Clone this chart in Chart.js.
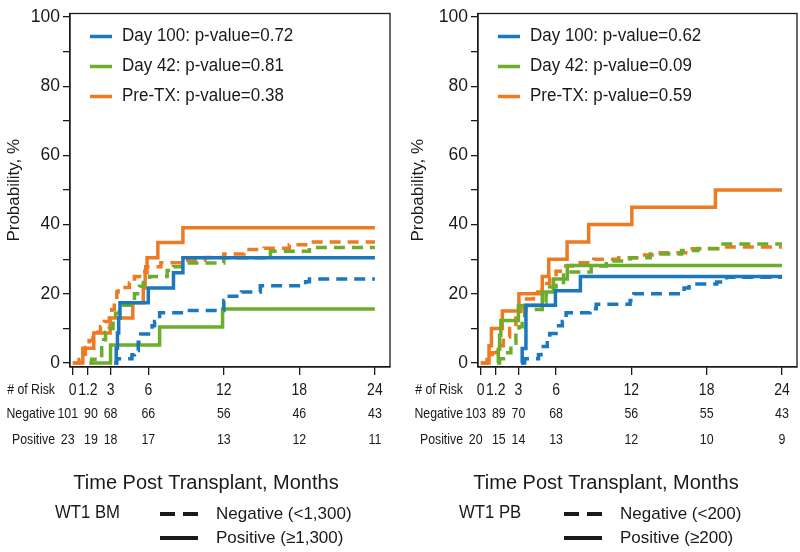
<!DOCTYPE html>
<html>
<head>
<meta charset="utf-8">
<script src="https://cdn.jsdelivr.net/npm/chart.js@4.4.1/dist/chart.umd.min.js"></script>
<style>
  html, body { margin: 0; padding: 0; background: #fff; }
  #wrap { position: relative; width: 800px; height: 552px; }
  canvas { position: absolute; top: 0; }
</style>
</head>
<body>
<div id="wrap">
  <canvas id="chartBM" width="404" height="552" style="left:0"></canvas>
  <canvas id="chartPB" width="396" height="552" style="left:404px"></canvas>
</div>
<script>
// Ejes
const xTicks = [0, 1.2, 3, 6, 12, 18, 24];
const yTicks = [0, 10, 20, 30, 40, 50, 60, 70, 80, 90, 100];

// Panel WT1 BM
const bmPvalues = ['0.72', '0.81', '0.38'];
const bmRiskNeg = [101, 90, 68, 66, 56, 46, 43];
const bmRiskPos = [23, 19, 18, 17, 13, 12, 11];

const bmD100PosT = [3.3, 3.45, 3.55, 3.65, 3.75, 6.0, 8.0, 8.75, 24];
const bmD100PosY = [0, 4.3, 8.7, 13.0, 17.4, 21.7, 26.1, 30.4, 30.4];
const bmD100NegT = [3.3, 3.5, 4.7, 4.9, 5.2, 5.4, 6.3, 6.5, 6.9, 8.9, 12.0, 12.2, 13.4, 14.9, 18.5, 18.8, 24];
const bmD100NegY = [0, 1.2, 2.4, 3.6, 6.0, 8.4, 10.8, 12.0, 14.5, 15.2, 18.1, 19.3, 20.5, 22.3, 23.5, 24.3, 24.3];
const bmD42PosT = [1.33, 3.0, 6.9, 11.9, 24];
const bmD42PosY = [0, 5.2, 10.4, 15.6, 15.6];
const bmD42NegT = [1.33, 1.5, 2.0, 2.3, 2.45, 2.6, 2.9, 3.2, 3.4, 3.7, 4.6, 4.9, 5.3, 5.6, 6.1, 7.5, 8.0, 8.7, 12.0, 15.7, 18.8, 24];
const bmD42NegY = [0, 1.1, 2.2, 4.4, 6.7, 8.9, 10.0, 12.2, 14.4, 16.7, 17.8, 20.0, 22.2, 23.3, 25.0, 26.7, 27.8, 28.9, 30.4, 32.3, 33.4, 33.4];
const bmPrePosT = [0, 0.8, 1.67, 2.97, 4.77, 5.6, 5.75, 5.9, 6.76, 8.75, 24];
const bmPrePosY = [0, 4.3, 8.7, 13.0, 17.4, 21.7, 26.1, 30.4, 34.8, 39.1, 39.1];
const bmPreNegT = [0, 0.5, 0.8, 1.0, 1.3, 1.6, 2.2, 2.5, 2.9, 3.1, 3.3, 3.5, 3.6, 4.5, 4.9, 5.5, 5.8, 7.0, 8.8, 10.5, 12.0, 13.6, 15.2, 17.2, 18.8, 24];
const bmPreNegY = [0, 1.0, 2.5, 4.5, 6.5, 8.9, 10.5, 12.0, 13.5, 15.5, 18.0, 20.5, 21.8, 23.2, 25.0, 26.5, 27.8, 29.0, 29.7, 30.5, 31.5, 32.8, 33.2, 34.2, 35.0, 35.0];

// Panel WT1 PB
const pbPvalues = ['0.62', '0.09', '0.59'];
const pbRiskNeg = [103, 89, 70, 68, 56, 55, 43];
const pbRiskPos = [20, 15, 14, 13, 12, 10, 9];

const pbD100PosT = [3.2, 3.3, 3.6, 5.95, 7.94, 24];
const pbD100PosY = [0, 4.2, 16.7, 20.9, 25.0, 25.0];
const pbD100NegT = [3.3, 3.5, 4.6, 4.8, 5.3, 5.5, 6.2, 6.5, 6.8, 8.7, 9.2, 11.9, 12.2, 16.2, 16.6, 18.8, 19.6, 24];
const pbD100NegY = [0, 1.2, 2.4, 4.8, 7.2, 8.5, 10.8, 12.0, 14.5, 15.7, 17.0, 18.1, 20.0, 21.7, 22.8, 23.4, 24.8, 24.8];
const pbD42PosT = [1.3, 1.4, 1.5, 1.6, 3.0, 4.9, 5.8, 6.9, 24];
const pbD42PosY = [0, 4.0, 8.0, 12.3, 16.6, 20.5, 24.3, 28.2, 28.2];
const pbD42NegT = [1.4, 1.5, 2.0, 2.4, 2.8, 3.05, 3.3, 3.5, 4.9, 5.2, 5.5, 6.0, 6.6, 8.8, 10.0, 11.9, 13.5, 16.0, 17.3, 19.0, 24];
const pbD42NegY = [0, 1.2, 3.0, 5.7, 8.0, 10.5, 13.0, 15.5, 17.5, 20.0, 22.0, 23.3, 26.3, 28.0, 29.5, 30.4, 31.5, 32.5, 33.1, 34.4, 34.4];
const pbPrePosT = [0, 0.66, 0.85, 1.72, 3.04, 4.9, 5.42, 6.88, 8.6, 12.04, 18.7, 24];
const pbPrePosY = [0, 5, 10, 15, 20, 25, 30, 35, 40, 45, 50, 50];
const pbPreNegT = [0, 0.5, 0.9, 1.3, 1.8, 2.3, 2.8, 3.2, 3.5, 4.2, 4.9, 5.5, 6.0, 6.6, 7.3, 9.0, 11.0, 12.6, 14.3, 16.5, 19.2, 24];
const pbPreNegY = [0, 1.0, 3.0, 5.0, 7.5, 10.0, 13.0, 16.0, 18.5, 20.5, 23.0, 24.5, 26.5, 28.0, 29.0, 30.0, 30.4, 31.2, 31.9, 33.0, 33.5, 33.5];

const BLUE = '#1b77be';
const GREEN = '#6cad2b';
const ORANGE = '#ee7b22';
const INK = '#1a1a1a';
const FONT = '"Liberation Sans", Arial, sans-serif';

// desplazamiento de las dos primeras columnas de la tabla para que no se peguen
const colNudge = [-5, 3, 0, 0, 0, 0, 0];

function pts(t, y) {
    return t.map((v, i) => ({ x: v, y: y[i] }));
}

function serie(t, y, color, dashed) {
    return {
        data: pts(t, y),
        borderColor: color,
        borderWidth: 3.5,
        borderDash: dashed ? [11, 7] : [],
        stepped: 'before',
        pointRadius: 0,
        fill: false
    };
}

// Texto con compresión horizontal opcional
function drawText(ctx, text, px, py, size, sx, align) {
    ctx.save();
    ctx.translate(px, py);
    ctx.scale(sx, 1);
    ctx.font = size + 'px ' + FONT;
    ctx.fillStyle = INK;
    ctx.textAlign = align;
    ctx.textBaseline = 'middle';
    ctx.fillText(text, 0, 0);
    ctx.restore();
}

const panelDecor = {
    id: 'panelDecor',
    afterDraw(chart, args, o) {
        const { ctx, chartArea: a, scales: { x } } = chart;
        const w = chart.width;
        ctx.save();

        // marco
        ctx.strokeStyle = INK;
        ctx.lineWidth = 1.3;
        ctx.strokeRect(a.left, a.top, a.right - a.left, a.bottom - a.top);

        // leyenda interior
        const colors = [BLUE, GREEN, ORANGE];
        const names = ['Day 100', 'Day 42', 'Pre-TX'];
        names.forEach((n, i) => {
            const yy = a.top + 23 + i * 30;
            ctx.strokeStyle = colors[i];
            ctx.lineWidth = 3.5;
            ctx.setLineDash([]);
            ctx.beginPath();
            ctx.moveTo(a.left + 20, yy);
            ctx.lineTo(a.left + 42, yy);
            ctx.stroke();
            drawText(ctx, n + ': p-value=' + o.pvalues[i], a.left + 52, yy, 17.5, 0.97, 'left');
        });

        // tabla de riesgo
        const labX = a.left - 15;
        drawText(ctx, '# of Risk', labX, 390, 15, 0.82, 'right');
        drawText(ctx, 'Negative', labX, 414, 15, 0.82, 'right');
        drawText(ctx, 'Positive', labX, 440, 15, 0.82, 'right');
        xTicks.forEach((t, i) => {
            const px = x.getPixelForValue(t);
            drawText(ctx, String(t), px, 390, 16.5, 0.85, 'center');
            drawText(ctx, String(o.riskNeg[i]), px + colNudge[i], 414, 15.5, 0.8, 'center');
            drawText(ctx, String(o.riskPos[i]), px + colNudge[i], 440, 15.5, 0.8, 'center');
        });

        // título eje x
        drawText(ctx, 'Time Post Transplant, Months', w / 2 + 4, 483, 20, 1, 'center');

        // leyenda de estilos
        drawText(ctx, o.group, 55, 513, 19, 0.88, 'left');
        ctx.strokeStyle = INK;
        ctx.lineWidth = 4;
        ctx.setLineDash([15, 8]);
        ctx.beginPath();
        ctx.moveTo(160, 514);
        ctx.lineTo(198, 514);
        ctx.stroke();
        ctx.setLineDash([]);
        ctx.beginPath();
        ctx.moveTo(160, 538);
        ctx.lineTo(198, 538);
        ctx.stroke();
        drawText(ctx, o.negLabel, 216, 514, 17, 1, 'left');
        drawText(ctx, o.posLabel, 216, 538, 17, 1, 'left');

        ctx.restore();
    }
};

function makePanel(id, cfg) {
    const ctx = document.getElementById(id);
    return new Chart(ctx.getContext('2d'), {
        type: 'line',
        data: { datasets: cfg.datasets },
        plugins: [panelDecor],
        options: {
            responsive: false,
            animation: false,
            devicePixelRatio: 1,
            layout: { padding: { left: 0, right: cfg.padRight, top: 10, bottom: 0 } },
            plugins: {
                legend: { display: false },
                tooltip: { enabled: false },
                panelDecor: cfg.decor
            },
            scales: {
                x: {
                    type: 'linear',
                    min: -0.22,
                    max: 25.2,
                    afterBuildTicks: s => { s.ticks = xTicks.map(v => ({ value: v })); },
                    afterFit: s => { s.height = 185; },
                    ticks: { display: false },
                    grid: { drawOnChartArea: false, tickLength: 8, color: INK, lineWidth: 1.3 },
                    border: { display: true, color: INK, width: 1.3 }
                },
                y: {
                    min: -1.15,
                    max: 101,
                    afterBuildTicks: s => { s.ticks = yTicks.map(v => ({ value: v })); },
                    afterFit: s => { s.width = cfg.yWidth; },
                    ticks: {
                        color: INK,
                        padding: 3,
                        font: { family: FONT, size: 17.5 },
                        callback: v => (v % 20 === 0 ? v : '')
                    },
                    grid: { drawOnChartArea: false, tickLength: 7, color: INK, lineWidth: 1.3 },
                    border: { display: true, color: INK, width: 1.3 },
                    title: {
                        display: true,
                        text: 'Probability, %',
                        color: INK,
                        font: { family: FONT, size: 17 },
                        padding: { top: 4, bottom: 0 }
                    }
                }
            }
        }
    });
}

window.addEventListener('DOMContentLoaded', () => {
    makePanel('chartBM', {
        yWidth: 70,
        padRight: 14,
        datasets: [
            serie(bmD100PosT, bmD100PosY, BLUE, false),
            serie(bmD100NegT, bmD100NegY, BLUE, true),
            serie(bmD42PosT, bmD42PosY, GREEN, false),
            serie(bmD42NegT, bmD42NegY, GREEN, true),
            serie(bmPrePosT, bmPrePosY, ORANGE, false),
            serie(bmPreNegT, bmPreNegY, ORANGE, true)
        ],
        decor: {
            pvalues: bmPvalues, riskNeg: bmRiskNeg, riskPos: bmRiskPos,
            group: 'WT1 BM', negLabel: 'Negative (<1,300)', posLabel: 'Positive (\u22651,300)'
        }
    });
    makePanel('chartPB', {
        yWidth: 74,
        padRight: 3,
        datasets: [
            serie(pbD100PosT, pbD100PosY, BLUE, false),
            serie(pbD100NegT, pbD100NegY, BLUE, true),
            serie(pbD42PosT, pbD42PosY, GREEN, false),
            serie(pbD42NegT, pbD42NegY, GREEN, true),
            serie(pbPrePosT, pbPrePosY, ORANGE, false),
            serie(pbPreNegT, pbPreNegY, ORANGE, true)
        ],
        decor: {
            pvalues: pbPvalues, riskNeg: pbRiskNeg, riskPos: pbRiskPos,
            group: 'WT1 PB', negLabel: 'Negative (<200)', posLabel: 'Positive (\u2265200)'
        }
    });
});
</script>
</body>
</html>
